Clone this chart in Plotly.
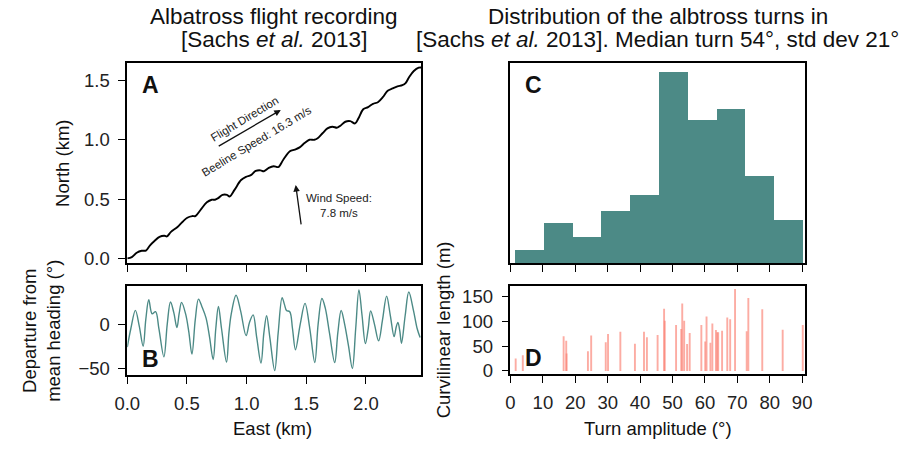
import plotly.graph_objects as go

W, H = 906, 449
FONT = "Liberation Sans, Arial, Helvetica, sans-serif"

# Panel A: albatross track (East km, North km)
track_east = [0.000, 0.038, 0.079, 0.120, 0.156, 0.189, 0.230, 0.270, 0.311, 0.333,
              0.366, 0.421, 0.462, 0.503, 0.544, 0.571, 0.612, 0.667, 0.708, 0.735,
              0.762, 0.798, 0.836, 0.858, 0.899, 0.954, 0.995, 1.036, 1.077, 1.117,
              1.145, 1.186, 1.227, 1.254, 1.268, 1.309, 1.363, 1.404, 1.445, 1.486,
              1.527, 1.568, 1.596, 1.637, 1.678, 1.719, 1.760, 1.787, 1.828, 1.869,
              1.910, 1.937, 1.978, 2.019, 2.060, 2.101, 2.142, 2.183, 2.224, 2.265,
              2.306, 2.333, 2.361, 2.402, 2.443, 2.465]
track_north = [0.000, 0.011, 0.047, 0.064, 0.066, 0.108, 0.149, 0.182, 0.191, 0.185,
               0.224, 0.265, 0.307, 0.343, 0.357, 0.357, 0.406, 0.473, 0.495, 0.495,
               0.508, 0.536, 0.536, 0.522, 0.578, 0.661, 0.688, 0.702, 0.738, 0.743,
               0.735, 0.763, 0.777, 0.771, 0.771, 0.834, 0.904, 0.918, 0.937, 0.973,
               1.001, 1.001, 1.014, 1.056, 1.097, 1.111, 1.103, 1.120, 1.153, 1.158,
               1.139, 1.180, 1.258, 1.277, 1.304, 1.318, 1.360, 1.415, 1.434, 1.451,
               1.462, 1.479, 1.526, 1.581, 1.609, 1.611]

# Panel B: departure from mean heading (deg) vs East (km)
dep_east = [0.000, 0.030, 0.068, 0.100, 0.133, 0.155, 0.180, 0.208, 0.237, 0.265,
            0.307, 0.335, 0.362, 0.390, 0.416, 0.435, 0.455, 0.489, 0.516, 0.542,
            0.570, 0.597, 0.625, 0.660, 0.690, 0.720, 0.742, 0.764, 0.790, 0.832,
            0.852, 0.871, 0.912, 0.950, 0.996, 1.025, 1.055, 1.085, 1.121, 1.145,
            1.168, 1.195, 1.236, 1.265, 1.298, 1.318, 1.335, 1.362, 1.385, 1.410,
            1.450, 1.490, 1.530, 1.572, 1.600, 1.632, 1.660, 1.695, 1.739, 1.765,
            1.793, 1.822, 1.855, 1.887, 1.915, 1.942, 1.968, 1.996, 2.020, 2.040,
            2.072, 2.107, 2.140, 2.174, 2.205, 2.237, 2.255, 2.269, 2.285, 2.299,
            2.330, 2.360, 2.400, 2.430, 2.455]
dep_deg = [-26, -5, 15.5, -2, -25, 5, 27.6, 11.7, 14, -5,
           -37, 0, 25, 13, -4, 12, 24.6, 11.5, -9, -34,
           5, 28.3, 20, 7, -15, -40, -5, 20, -5, -43,
           -10, 11, 32.6, 15, -13, 2, 10.4, -15, -44, -10,
           9.5, -15, -52.6, -10, 29.8, 22, 15.4, 14, -5, -29,
           0, 23.4, -5, -43.5, 0, 29, 18, -10, -43.5, -10,
           15.4, 0, -25, -50.2, -5, 38.7, 10, -22, -5, 15,
           0, -19, 5, 31.7, 10, -14.2, -3, 2, -8, -21.6,
           10, 36.3, 15, -5, -15.2]

# Panel C: histogram of turn amplitudes
bin_edges = [1.6, 10.5, 19.4, 28.2, 37.1, 46.0, 54.9, 63.8, 72.6, 81.5, 90.4]
bin_heights = [40, 124, 82, 160, 209, 584, 439, 472, 268, 133]

# Panel D: turn amplitude (deg) and curvilinear length (m)
turn_amp = [1.6, 3.8, 16.4, 17.2, 17.3, 23.9, 24.9, 29.4, 30.1, 33.9,
            38.4, 41.2, 42.1, 45.4, 47.4, 47.6, 51.1, 52.7, 53.0, 53.6,
            54.5, 55.3, 58.9, 60.1, 60.5, 61.7, 62.3, 63.4, 63.8, 64.1,
            65.3, 66.9, 67.8, 69.3, 72.9, 73.4, 77.7, 84.0, 90.2]
curv_len = [25, 31.6, 70, 60.7, 35, 39.5, 71.2, 58, 74.5, 79,
            54.7, 79, 68, 72.5, 125.3, 101, 92.3, 84.4, 135.8, 100.8,
            54.1, 76.5, 92.3, 59.3, 109.5, 56.7, 95.6, 82.4, 77.8, 77.8,
            81, 107.5, 104.2, 164.8, 79.8, 147, 124, 83, 92.3]

TEAL = "#4C8A86"
SALMON = "rgba(250,128,114,0.65)"

bar_x = [(a + b) / 2 for a, b in zip(bin_edges[:-1], bin_edges[1:])]
bar_w = [b - a for a, b in zip(bin_edges[:-1], bin_edges[1:])]

fig = go.Figure()
fig.add_trace(go.Scatter(x=track_east, y=track_north, mode="lines",
                         line=dict(color="black", width=1.9, shape="spline"),
                         xaxis="x", yaxis="y", showlegend=False))
fig.add_trace(go.Scatter(x=dep_east, y=dep_deg, mode="lines",
                         line=dict(color=TEAL, width=1.4, shape="spline", smoothing=1.0),
                         xaxis="x2", yaxis="y2", showlegend=False))
fig.add_trace(go.Bar(x=bar_x, y=bin_heights, width=bar_w, marker_color=TEAL,
                     marker_line_width=0, xaxis="x3", yaxis="y3", showlegend=False))
# one vertical stick per turn (separate traces so overlaps darken)
for a, l in zip(turn_amp, curv_len):
    fig.add_trace(go.Scatter(x=[a, a], y=[0, l], mode="lines",
                             line=dict(color=SALMON, width=1.9),
                             xaxis="x4", yaxis="y4", showlegend=False,
                             hoverinfo="skip"))

def px_x(p):
    return p / W

def px_y(p):
    return 1 - p / H

TICK = 18.5
axis_common = dict(showgrid=False, zeroline=False, showline=True, mirror=True,
                   linecolor="black", linewidth=1.6, ticks="outside", ticklen=7,
                   tickwidth=1.4, tickcolor="black",
                   tickfont=dict(family=FONT, size=TICK, color="#222"))
xax = dict(axis_common, ticklabelstandoff=4)
yax = dict(axis_common, ticklabelstandoff=5)

xA = [px_x(117), px_x(418)]
xC = [px_x(509.3), px_x(810.5)]

fig.update_layout(
    width=W, height=H, margin=dict(l=0, r=0, t=0, b=0),
    paper_bgcolor="white", plot_bgcolor="white",
    bargap=0, barmode="overlay",
    font=dict(family=FONT, color="#222"),
    xaxis=dict(domain=xA, range=[0, 2.465], tickvals=[0, 0.5, 1, 1.5, 2],
               showticklabels=False, anchor="y", **xax),
    yaxis=dict(domain=[px_y(268), px_y(64)], range=[-0.041, 1.65],
               tickvals=[0, 0.5, 1.0, 1.5], tickformat=".1f", anchor="x", **yax),
    xaxis2=dict(domain=xA, range=[0, 2.465], tickvals=[0, 0.5, 1, 1.5, 2],
                tickformat=".1f", anchor="y2", **xax),
    yaxis2=dict(domain=[px_y(382), px_y(291)], range=[-57.8, 43.3],
                tickvals=[0, -50], anchor="x2", **yax),
    xaxis3=dict(domain=xC, range=[0, 90.8], tickvals=list(range(0, 100, 10)),
                showticklabels=False, anchor="y3", **xax),
    yaxis3=dict(domain=[px_y(268), px_y(64)], range=[0, 612], showticklabels=False,
                anchor="x3", **{**yax, "ticks": ""}),
    xaxis4=dict(domain=xC, range=[0, 90.8], tickvals=list(range(0, 100, 10)),
                anchor="y4", **xax),
    yaxis4=dict(domain=[px_y(380.5), px_y(291)], range=[-5.5, 171.3],
                tickvals=[0, 50, 100, 150], anchor="x4", **yax),
)

ann = []
def text(x, y, t, size, angle=0, bold=False):
    if bold:
        t = "<b>" + t + "</b>"
    ann.append(dict(x=px_x(x), y=px_y(y), xref="paper", yref="paper", text=t,
                    showarrow=False, textangle=angle, xanchor="center", yanchor="middle",
                    font=dict(family=FONT, size=size, color="#111")))

# titles
TT = 22.5
text(267.5, 16.5, "Albatross flight recording", TT)
text(267.5, 40.5, "[Sachs <i>et al.</i> 2013]", TT)
text(660, 16.5, "Distribution of the albtross turns in", TT)
text(660, 40.5, "[Sachs <i>et al.</i> 2013]. Median turn 54°, std dev 21°", TT)
# axis titles
AT = 18.5
text(50, 166, "North (km)", AT, -90)
text(29, 336.5, "Departure from<br>mean heading (°)", AT, -90)
text(441, 335.5, "Curvilinear length (m)", AT, -90)
text(266, 436, "East (km)", AT)
text(660, 436, "Turn amplitude (°)", AT)
# panel letters
text(141, 87, "A", 23, bold=True)
text(140.5, 366, "B", 23, bold=True)
text(533, 87, "C", 23, bold=True)
text(533, 365, "D", 23, bold=True)

# annotations inside panel A (data coordinates)
ann.append(dict(x=1.287, y=1.252, ax=0.754, ay=0.940, xref="x", yref="y",
                axref="x", ayref="y", showarrow=True, arrowhead=2, arrowsize=1,
                arrowwidth=1.3, arrowcolor="#111", text=""))
ann.append(dict(x=1.412, y=0.619, ax=1.459, ay=0.274, xref="x", yref="y",
                axref="x", ayref="y", showarrow=True, arrowhead=2, arrowsize=1,
                arrowwidth=1.3, arrowcolor="#111", text=""))
ann.append(dict(x=0.981, y=1.180, xref="x", yref="y", text="Flight Direction",
                showarrow=False, textangle=-31,
                font=dict(family=FONT, size=11.5, color="#222")))
ann.append(dict(x=1.088, y=0.987, xref="x", yref="y", text="Beeline Speed: 16.3 m/s",
                showarrow=False, textangle=-31,
                font=dict(family=FONT, size=11.5, color="#222")))
ann.append(dict(x=1.773, y=0.448, xref="x", yref="y", text="Wind Speed:<br>7.8 m/s",
                showarrow=False, align="center",
                font=dict(family=FONT, size=11.5, color="#222")))

fig.update_layout(annotations=ann)
fig.write_html("out.html")
